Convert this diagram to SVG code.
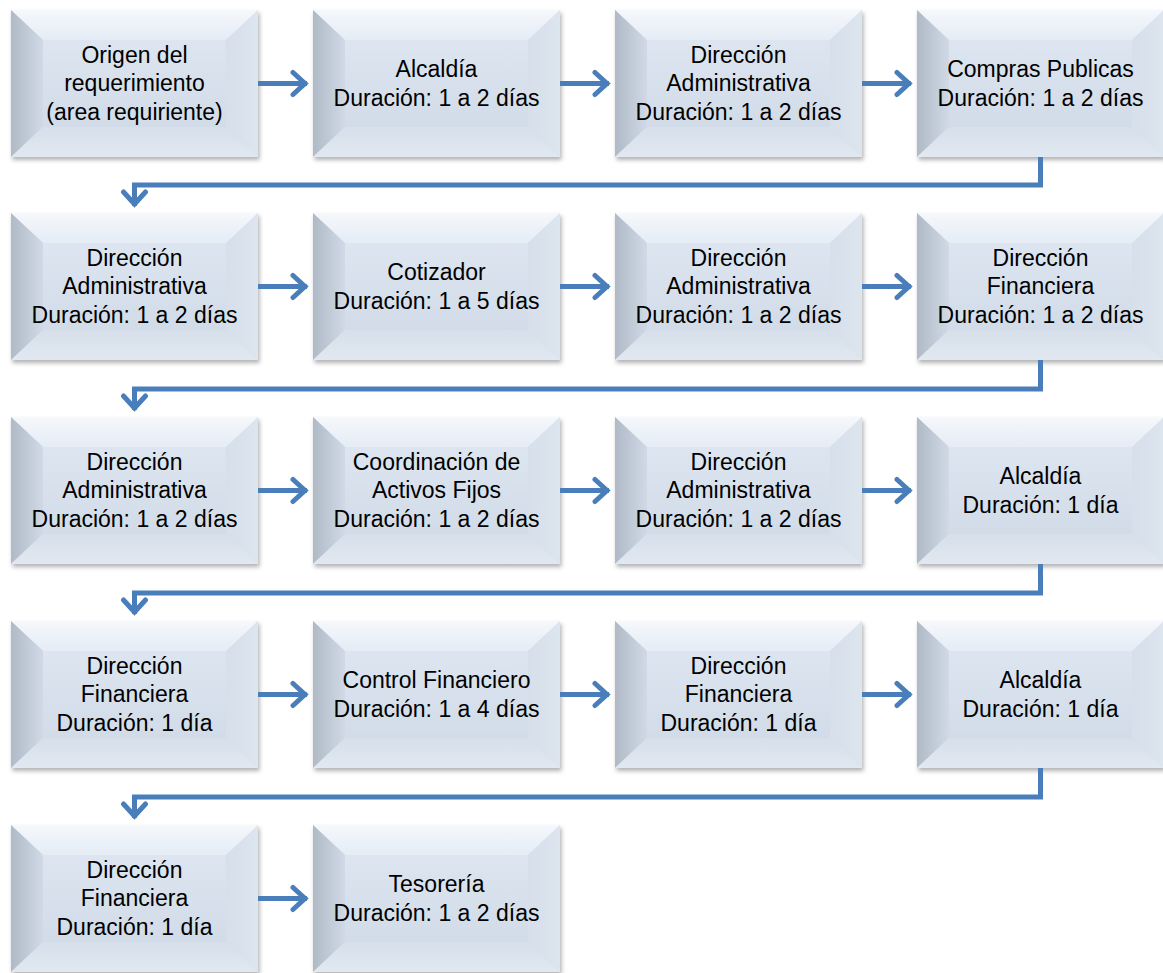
<svg xmlns="http://www.w3.org/2000/svg" xmlns:xlink="http://www.w3.org/1999/xlink" width="1163" height="973" viewBox="0 0 1163 973">
<style>
.t{font-family:"Liberation Sans",Arial,sans-serif;font-size:23px;fill:#000;text-anchor:middle}
.c{fill:none;stroke:#4A7EBB;stroke-width:5}
</style>
<defs>
<linearGradient id="gFace" x1="0" y1="0" x2="0" y2="1"><stop offset="0" stop-color="#DCE5F0"/><stop offset="1" stop-color="#D2DCE8"/></linearGradient>
<linearGradient id="gTop" x1="0" y1="0" x2="0" y2="1"><stop offset="0" stop-color="#F5F8FC"/><stop offset="1" stop-color="#E5ECF5"/></linearGradient>
<linearGradient id="gLeft" x1="0" y1="0" x2="1" y2="0"><stop offset="0" stop-color="#B0BAC7"/><stop offset="1" stop-color="#D0D9E5"/></linearGradient>
<linearGradient id="gRight" x1="0" y1="0" x2="1" y2="0"><stop offset="0" stop-color="#D6DFEA"/><stop offset="1" stop-color="#DDE5EF"/></linearGradient>
<linearGradient id="gBot" x1="0" y1="0" x2="0" y2="1"><stop offset="0" stop-color="#D6DFEA"/><stop offset="1" stop-color="#E1E8F1"/></linearGradient>
<filter id="sh" x="-5%" y="-5%" width="112%" height="115%"><feDropShadow dx="1.5" dy="3" stdDeviation="2" flood-color="#000" flood-opacity="0.3"/></filter>
<g id="box">
<rect x="0" y="0" width="247" height="147" fill="url(#gFace)" filter="url(#sh)"/>
<polygon points="0,0 247,0 215,30 32,30" fill="url(#gTop)"/>
<polygon points="0,0 32,30 32,117 0,147" fill="url(#gLeft)"/>
<polygon points="247,0 247,147 215,117 215,30" fill="url(#gRight)"/>
<polygon points="0,147 32,117 215,117 247,147" fill="url(#gBot)"/>
<rect x="32" y="30" width="183" height="87" fill="url(#gFace)"/>
</g>
<marker id="ah" markerUnits="userSpaceOnUse" markerWidth="30" markerHeight="30" viewBox="-20 -15 25 30" refX="0" refY="0" orient="auto">
<path d="M-14,-11 L-2,0 L-14,11" fill="none" stroke="#4A7EBB" stroke-width="5" stroke-linecap="round" stroke-linejoin="miter"/>
</marker>
</defs>
<rect width="1163" height="973" fill="#fff"/>

<g id="n1"><use xlink:href="#box" x="11" y="10"/><text class="t" x="134.5" y="63">Origen del</text><text class="t" x="134.5" y="91">requerimiento</text><text class="t" x="134.5" y="120">(area requiriente)</text></g>
<g id="n2"><use xlink:href="#box" x="313" y="10"/><text class="t" x="436.5" y="77">Alcaldía</text><text class="t" x="436.5" y="106">Duración: 1 a 2 días</text></g>
<g id="n3"><use xlink:href="#box" x="615" y="10"/><text class="t" x="738.5" y="63">Dirección</text><text class="t" x="738.5" y="91">Administrativa</text><text class="t" x="738.5" y="120">Duración: 1 a 2 días</text></g>
<g id="n4"><use xlink:href="#box" x="917" y="10"/><text class="t" x="1040.5" y="77">Compras Publicas</text><text class="t" x="1040.5" y="106">Duración: 1 a 2 días</text></g>

<g id="n5"><use xlink:href="#box" x="11" y="213"/><text class="t" x="134.5" y="266">Dirección</text><text class="t" x="134.5" y="294">Administrativa</text><text class="t" x="134.5" y="323">Duración: 1 a 2 días</text></g>
<g id="n6"><use xlink:href="#box" x="313" y="213"/><text class="t" x="436.5" y="280">Cotizador</text><text class="t" x="436.5" y="309">Duración: 1 a 5 días</text></g>
<g id="n7"><use xlink:href="#box" x="615" y="213"/><text class="t" x="738.5" y="266">Dirección</text><text class="t" x="738.5" y="294">Administrativa</text><text class="t" x="738.5" y="323">Duración: 1 a 2 días</text></g>
<g id="n8"><use xlink:href="#box" x="917" y="213"/><text class="t" x="1040.5" y="266">Dirección</text><text class="t" x="1040.5" y="294">Financiera</text><text class="t" x="1040.5" y="323">Duración: 1 a 2 días</text></g>

<g id="n9"><use xlink:href="#box" x="11" y="417"/><text class="t" x="134.5" y="470">Dirección</text><text class="t" x="134.5" y="498">Administrativa</text><text class="t" x="134.5" y="527">Duración: 1 a 2 días</text></g>
<g id="n10"><use xlink:href="#box" x="313" y="417"/><text class="t" x="436.5" y="470">Coordinación de</text><text class="t" x="436.5" y="498">Activos Fijos</text><text class="t" x="436.5" y="527">Duración: 1 a 2 días</text></g>
<g id="n11"><use xlink:href="#box" x="615" y="417"/><text class="t" x="738.5" y="470">Dirección</text><text class="t" x="738.5" y="498">Administrativa</text><text class="t" x="738.5" y="527">Duración: 1 a 2 días</text></g>
<g id="n12"><use xlink:href="#box" x="917" y="417"/><text class="t" x="1040.5" y="484">Alcaldía</text><text class="t" x="1040.5" y="513">Duración: 1 día</text></g>

<g id="n13"><use xlink:href="#box" x="11" y="621"/><text class="t" x="134.5" y="674">Dirección</text><text class="t" x="134.5" y="702">Financiera</text><text class="t" x="134.5" y="731">Duración: 1 día</text></g>
<g id="n14"><use xlink:href="#box" x="313" y="621"/><text class="t" x="436.5" y="688">Control Financiero</text><text class="t" x="436.5" y="717">Duración: 1 a 4 días</text></g>
<g id="n15"><use xlink:href="#box" x="615" y="621"/><text class="t" x="738.5" y="674">Dirección</text><text class="t" x="738.5" y="702">Financiera</text><text class="t" x="738.5" y="731">Duración: 1 día</text></g>
<g id="n16"><use xlink:href="#box" x="917" y="621"/><text class="t" x="1040.5" y="688">Alcaldía</text><text class="t" x="1040.5" y="717">Duración: 1 día</text></g>

<g id="n17"><use xlink:href="#box" x="11" y="825"/><text class="t" x="134.5" y="878">Dirección</text><text class="t" x="134.5" y="906">Financiera</text><text class="t" x="134.5" y="935">Duración: 1 día</text></g>
<g id="n18"><use xlink:href="#box" x="313" y="825"/><text class="t" x="436.5" y="892">Tesorería</text><text class="t" x="436.5" y="921">Duración: 1 a 2 días</text></g>

<g id="connectors">
<path class="c" marker-end="url(#ah)" d="M258,83.5 H307"/>
<path class="c" marker-end="url(#ah)" d="M560,83.5 H609"/>
<path class="c" marker-end="url(#ah)" d="M862,83.5 H911"/>
<path class="c" marker-end="url(#ah)" d="M1040.5,157 V185 H134.5 V206"/>
<path class="c" marker-end="url(#ah)" d="M258,286.5 H307"/>
<path class="c" marker-end="url(#ah)" d="M560,286.5 H609"/>
<path class="c" marker-end="url(#ah)" d="M862,286.5 H911"/>
<path class="c" marker-end="url(#ah)" d="M1040.5,360 V389 H134.5 V410"/>
<path class="c" marker-end="url(#ah)" d="M258,490.5 H307"/>
<path class="c" marker-end="url(#ah)" d="M560,490.5 H609"/>
<path class="c" marker-end="url(#ah)" d="M862,490.5 H911"/>
<path class="c" marker-end="url(#ah)" d="M1040.5,564 V593 H134.5 V614"/>
<path class="c" marker-end="url(#ah)" d="M258,694.5 H307"/>
<path class="c" marker-end="url(#ah)" d="M560,694.5 H609"/>
<path class="c" marker-end="url(#ah)" d="M862,694.5 H911"/>
<path class="c" marker-end="url(#ah)" d="M1040.5,768 V797 H134.5 V818"/>
<path class="c" marker-end="url(#ah)" d="M258,898.5 H307"/>
</g>
</svg>
